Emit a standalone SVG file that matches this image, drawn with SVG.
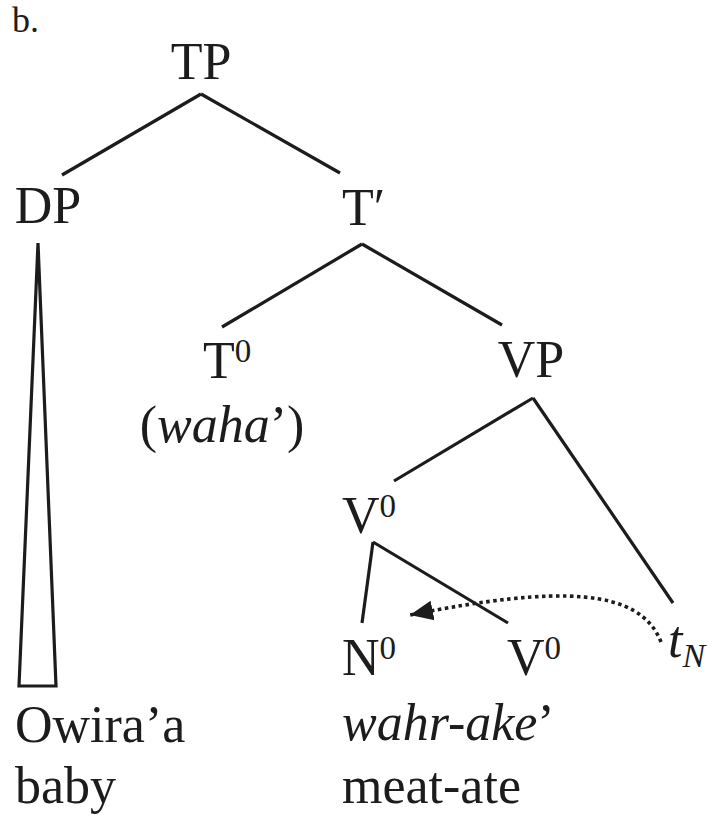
<svg xmlns="http://www.w3.org/2000/svg" width="710" height="816" viewBox="0 0 710 816">
<defs>
<style>
text{font-family:"Liberation Serif","Times New Roman",serif;fill:#1c1c1c;}
.n{font-size:52px;}
.sup{font-size:33px;}
.it{font-style:italic;}
.edge{stroke:#1c1c1c;stroke-width:3.2;fill:none;stroke-linecap:butt;}
.move{stroke:#1c1c1c;stroke-width:3.6;fill:none;stroke-dasharray:3.5 3.5;}
</style>
<marker id="ah" markerUnits="userSpaceOnUse" markerWidth="26" markerHeight="24" refX="23" refY="11" orient="auto" viewBox="0 0 26 22">
<path d="M0,1 L23,11 L0,21 Z" fill="#1c1c1c"/>
</marker>
</defs>
<rect width="710" height="816" fill="#ffffff"/>
<text x="12" y="32" style="font-size:36px">b.</text>
<g id="connectors">
<line class="edge" x1="201" y1="94" x2="62" y2="175"/>
<line class="edge" x1="201" y1="94" x2="340" y2="173"/>
<line class="edge" x1="362" y1="244" x2="222" y2="327"/>
<line class="edge" x1="362" y1="244" x2="502" y2="325"/>
<line class="edge" x1="533" y1="398" x2="394" y2="481"/>
<line class="edge" x1="533" y1="398" x2="673" y2="603"/>
<line class="edge" x1="373" y1="542" x2="362" y2="623"/>
<line class="edge" x1="373" y1="542" x2="508" y2="623"/>
<polygon class="edge" points="38,243 19,686 56,686" stroke-linejoin="miter"/>
<path class="move" d="M661,642 C640,588 560,585 410,615" marker-end="url(#ah)"/>
</g>
<g id="TP"><text class="n" x="201" y="79" text-anchor="middle">TP</text></g>
<g id="DP"><text class="n" x="48" y="223" text-anchor="middle">DP</text></g>
<g id="Tbar"><text class="n" x="342" y="225">T′</text></g>
<g id="T0"><text class="n" x="203" y="378">T<tspan class="sup" dy="-16">0</tspan></text>
<text class="n" x="222" y="442" text-anchor="middle">(<tspan class="it">waha</tspan>’)</text></g>
<g id="VP"><text class="n" x="531" y="377" text-anchor="middle">VP</text></g>
<g id="V0"><text class="n" x="342" y="533">V<tspan class="sup" dy="-16">0</tspan></text></g>
<g id="N0"><text class="n" x="342" y="675">N<tspan class="sup" dy="-16">0</tspan></text></g>
<g id="V0b"><text class="n" x="507" y="675">V<tspan class="sup" dy="-16">0</tspan></text></g>
<g id="tN"><text class="n it" x="668" y="657">t<tspan style="font-size:34px" dy="10">N</tspan></text></g>
<g id="gloss1"><text class="n" x="15" y="742">Owira’a</text>
<text class="n" x="15" y="803">baby</text></g>
<g id="gloss2"><text class="n" x="342" y="740"><tspan class="it">wahr-ake</tspan>’</text>
<text class="n" x="342" y="803">meat-ate</text></g>
</svg>
